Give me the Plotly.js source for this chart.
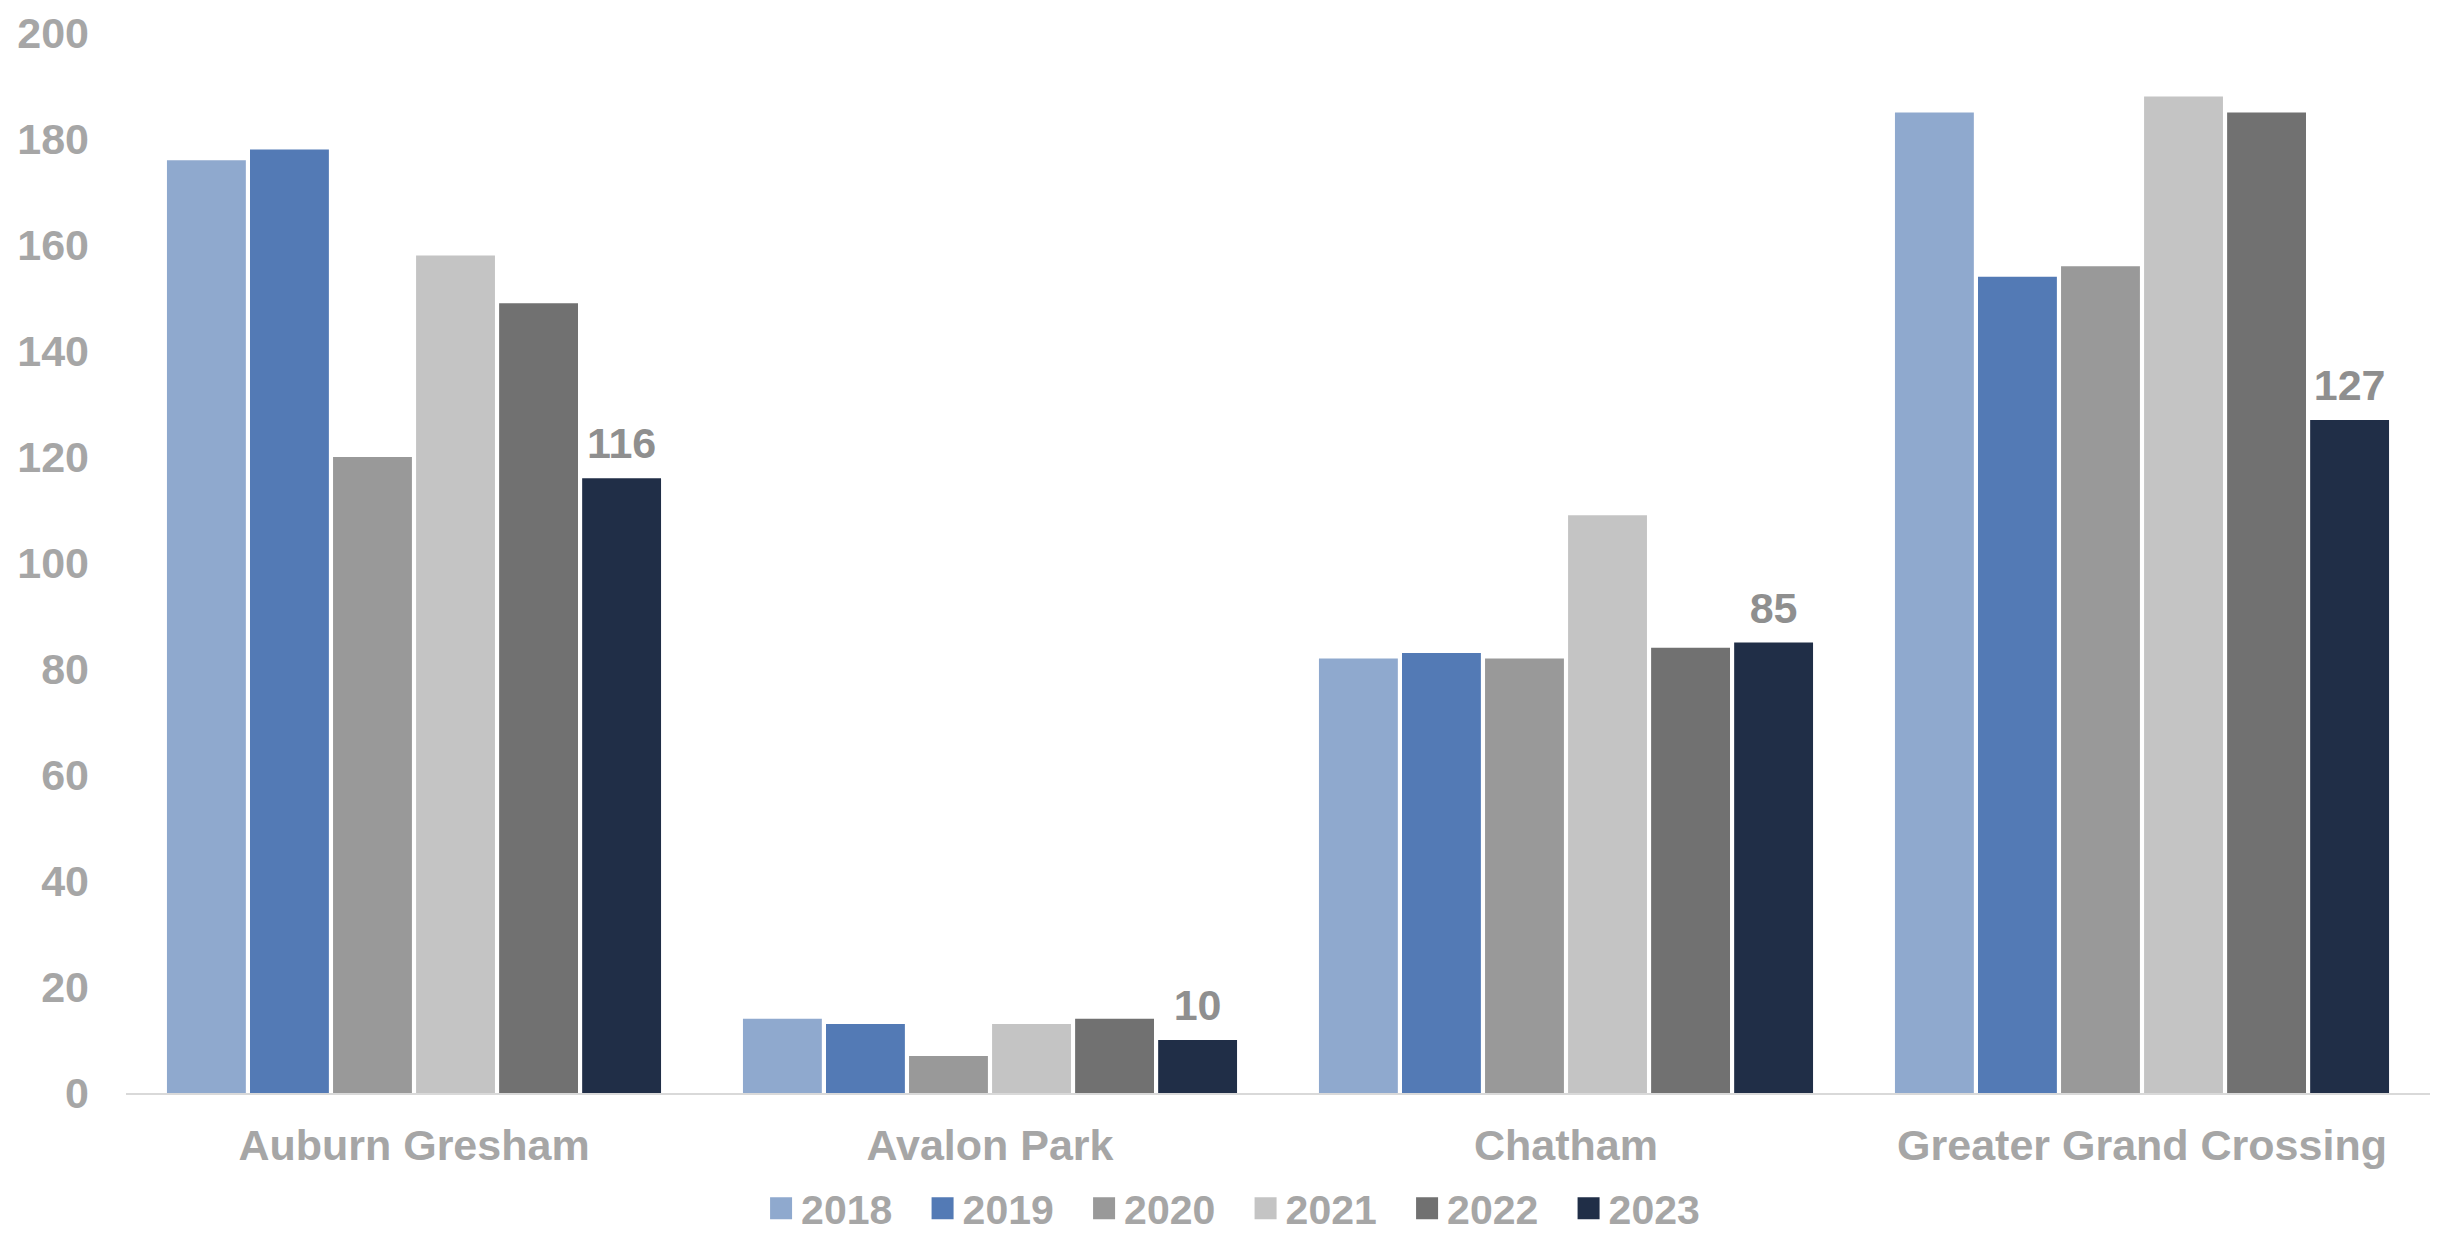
<!DOCTYPE html>
<html>
<head>
<meta charset="utf-8">
<script src="https://cdn.plot.ly/plotly-3.0.1.min.js"></script>
<style>
  html, body { margin: 0; padding: 0; background: #ffffff; }
  #chart { width: 2437px; height: 1234px; }
</style>
</head>
<body>
<div id="chart"></div>
<script>
const categories = ["Auburn Gresham", "Avalon Park", "Chatham", "Greater Grand Crossing"];
const years = ["2018", "2019", "2020", "2021", "2022", "2023"];
const values2018 = [176, 14, 82, 185];
const values2019 = [178, 13, 83, 154];
const values2020 = [120, 7, 82, 156];
const values2021 = [158, 13, 109, 188];
const values2022 = [149, 14, 84, 185];
const values2023 = [116, 10, 85, 127];
const yTicks = [0, 20, 40, 60, 80, 100, 120, 140, 160, 180, 200];

const seriesValues = [values2018, values2019, values2020, values2021, values2022, values2023];
const colors = ["#8FA9CE", "#537AB5", "#999999", "#C4C4C4", "#717171", "#202E47"];
const labelledYear = "2023";

const FONT = "Liberation Sans, Arial, sans-serif";
const TICK_COLOR = "#A6A6A6";
const LABEL_COLOR = "#8F8F8F";

const traces = years.map((yr, i) => {
  const t = {
    type: "bar",
    name: yr,
    x: categories,
    y: seriesValues[i],
    marker: { color: colors[i] },
    hoverinfo: "x+y+name"
  };
  if (yr === labelledYear) {
    t.text = seriesValues[i].map(v => String(v));
    t.textposition = "outside";
    t.textfont = { family: FONT, size: 43, color: LABEL_COLOR, weight: "bold" };
    t.cliponaxis = false;
  } else {
    t.textposition = "none";
  }
  return t;
});

const layout = {
  width: 2437,
  height: 1234,
  margin: { l: 126, r: 7, t: 33, b: 141, pad: 0 },
  paper_bgcolor: "#ffffff",
  plot_bgcolor: "#ffffff",
  barmode: "group",
  bargap: 0.135,
  bargroupgap: 0.05,
  font: { family: FONT, size: 43, color: TICK_COLOR, weight: "bold" },
  showlegend: true,
  legend: {
    orientation: "h",
    xref: "container",
    yref: "container",
    x: 0.3123,
    xanchor: "left",
    y: 0.0205,
    yanchor: "middle",
    entrywidth: 116.5,
    entrywidthmode: "pixels",
    font: { family: FONT, size: 41, color: TICK_COLOR, weight: "bold" },
    bgcolor: "rgba(0,0,0,0)",
    traceorder: "normal"
  },
  xaxis: {
    type: "category",
    showgrid: false,
    zeroline: false,
    showline: true,
    linecolor: "#D9D9D9",
    linewidth: 2,
    ticks: "",
    ticklabelstandoff: 13,
    tickfont: { family: FONT, size: 43, color: TICK_COLOR, weight: "bold" }
  },
  yaxis: {
    range: [0, 200],
    tickvals: yTicks,
    ticktext: yTicks.map(String),
    showgrid: false,
    zeroline: false,
    showline: false,
    ticks: "",
    ticklabelstandoff: 36,
    tickfont: { family: FONT, size: 43, color: TICK_COLOR, weight: "bold" }
  }
};

Plotly.newPlot("chart", traces, layout, { displayModeBar: false, staticPlot: true }).then(gd => {
  // enlarge the legend swatches to match the reference's squares
  gd.querySelectorAll(".legend .legendpoints path").forEach(p => {
    p.setAttribute("d", "M11,11H-11V-11H11Z");
  });
  // lift the value labels a little higher above their bars, as in the reference
  gd.querySelectorAll(".barlayer text.bartext").forEach(el => {
    const tr = el.getAttribute("transform") || "";
    el.setAttribute("transform", "translate(0,-8) " + tr);
  });
});
</script>
</body>
</html>
